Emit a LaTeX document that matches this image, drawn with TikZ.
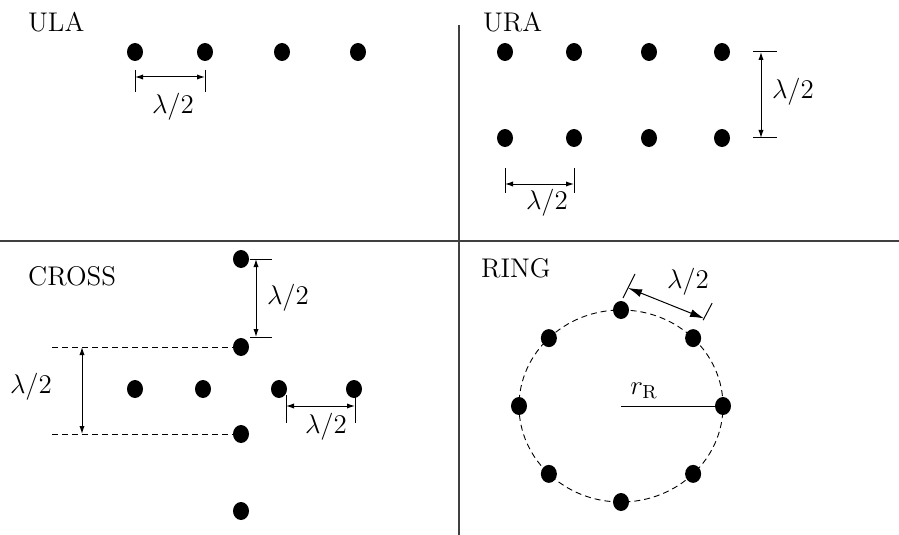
\documentclass[tikz,border=0pt]{standalone}
\usepackage{fix-cm}
\usepackage{amsmath}
\usetikzlibrary{calc, shapes.geometric, arrows.meta}

\tikzset{
  dot/.style={ellipse, fill, inner sep=0pt, minimum width=8pt, minimum height=9pt},
  lbl/.style={font=\fontsize{13.5}{16}\selectfont},
  dimarrow/.style={line width=0.5pt, {Latex[length=4pt,width=2.6pt]}-{Latex[length=4pt,width=2.6pt]}},
  ringarrow/.style={line width=0.5pt, {Latex[length=7pt,width=4pt]}-{Latex[length=7pt,width=4pt]}},
  guide/.style={line width=0.45pt, dash pattern=on 3pt off 2pt},
}

\begin{document}
\begin{tikzpicture}[x=0.5pt, y=-0.5pt, line width=0.5pt]
    \useasboundingbox (0,0) rectangle (899,535);

    % Trennlinien
    \draw[line width=0.6pt, black!75] (0,241) -- (899,241);
    \draw[line width=0.6pt, black!75] (459,25) -- (459,535);

    % ULA
    \node[lbl, anchor=west] (ula) at (21,22) {ULA};
    \foreach \i/\x in {1/135,2/205,3/282,4/358}
        \node[dot] (u\i) at (\x,52) {};
    \draw ($(u1)+(0,18)$) -- ($(u1)+(0,40)$);
    \draw ($(u2)+(0,18)$) -- ($(u2)+(0,40)$);
    \draw[dimarrow] ($(u1)+(0,25)$) -- ($(u2)+(0,25)$);
    \node[lbl] (ulad) at (173,107) {$\lambda/2$};

    % URA
    \node[lbl, anchor=west] (ura) at (476,22) {URA};
    \foreach \i/\x in {1/505,2/574,3/649,4/722} {
        \node[dot] (ra\i) at (\x,52) {};
        \node[dot] (rb\i) at (\x,138) {};
    }
    \draw ($(ra4)+(31,0)$) -- ($(ra4)+(55,0)$);
    \draw ($(rb4)+(31,0)$) -- ($(rb4)+(55,0)$);
    \draw[dimarrow] ($(ra4)+(39,0)$) -- ($(rb4)+(39,0)$);
    \node[lbl] (urav) at (793,92) {$\lambda/2$};
    \draw ($(rb1)+(0,30)$) -- ($(rb1)+(0,55)$);
    \draw ($(rb2)+(0,30)$) -- ($(rb2)+(0,55)$);
    \draw[dimarrow] ($(rb1)+(0,46)$) -- ($(rb2)+(0,46)$);
    \node[lbl] (urah) at (547,203) {$\lambda/2$};

    % CROSS
    \node[lbl, anchor=west] (cross) at (21,276) {CROSS};
    \foreach \i/\y in {1/259,2/347,3/434,4/511}
        \node[dot] (c\i) at (241,\y) {};
    \foreach \i/\x in {1/135,2/203,3/279,4/354}
        \node[dot] (h\i) at (\x,389) {};
    \draw (c1) -- ($(c1)+(31,0)$);
    \draw ($(c2)+(9,-10)$) -- ($(c2)+(31,-10)$);
    \draw[dimarrow] ($(c1)+(15,0)$) -- ($(c2)+(15,-10)$);
    \node[lbl] (crosst) at (288,298) {$\lambda/2$};
    \draw[guide] ($(c2)+(-189,0)$) -- (c2.west);
    \draw[guide] ($(c3)+(-189,0)$) -- (c3.west);
    \draw[dimarrow] ($(c2)+(-159,0)$) -- ($(c3)+(-159,0)$);
    \node[lbl] (crossl) at (31,387) {$\lambda/2$};
    \draw ($(h3)+(7,6)$) -- ($(h3)+(7,34)$);
    \draw ($(h4)+(1,6)$) -- ($(h4)+(1,34)$);
    \draw[dimarrow] ($(h3)+(7,17)$) -- ($(h4)+(1,17)$);
    \node[lbl] (crossr) at (326,427) {$\lambda/2$};

    % RING
    \node[lbl, anchor=west] (ring) at (474,268) {RING};
    \coordinate (ringc) at (621,406);
    \draw[guide] (ringc) ellipse [x radius=51pt, y radius=48pt];
    \foreach \a in {0,45,...,315}
        \node[dot] (g\a) at ($(ringc)+({102*cos(\a)},{-96*sin(\a)})$) {};
    \draw (ringc) -- (g0);
    \node[lbl] (rr) at (644,391) {$r_{\mathrm{R}}$};
    \coordinate (ta1) at ($(g90)+(2,-12)$);
    \coordinate (ta2) at ($(g90)+(14,-36)$);
    \coordinate (tb1) at ($(g45)+(10,-18)$);
    \coordinate (tb2) at ($(g45)+(19,-35)$);
    \draw (ta1) -- (ta2);
    \draw (tb1) -- (tb2);
    \draw[ringarrow] ($(ta1)!0.42!(ta2)$) -- ($(tb1)!0.1!(tb2)$);
    \node[lbl] (ringd) at (688,282) {$\lambda/2$};
\end{tikzpicture}
\end{document}
